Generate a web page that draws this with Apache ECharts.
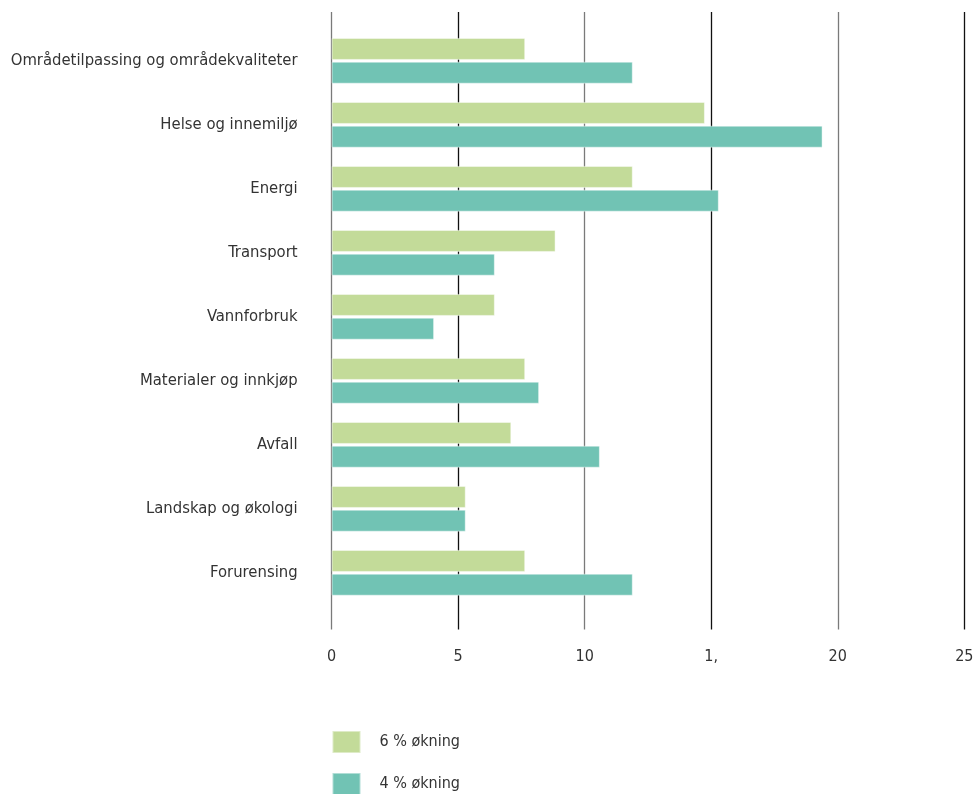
<!DOCTYPE html>
<html>
<head>
<meta charset="utf-8">
<style>
  html, body { margin: 0; padding: 0; background: #fff; }
  #chart { width: 973px; height: 794px; }
</style>
<script src="https://cdn.jsdelivr.net/npm/echarts@6/dist/echarts.min.js"></script>
</head>
<body>
<div id="chart"></div>
<script>
// Categories, top to bottom
const categories = [
  'Områdetilpassing og områdekvaliteter',
  'Helse og innemiljø',
  'Energi',
  'Transport',
  'Vannforbruk',
  'Materialer og innkjøp',
  'Avfall',
  'Landskap og økologi',
  'Forurensing'
];

// Series names
const seriesNames = ['6 % økning', '4 % økning'];

// Values per category
const values6 = [7.65, 14.75, 11.9, 8.85, 6.45, 7.65, 7.1, 5.3, 7.65];
const values4 = [11.9, 19.4, 15.3, 6.45, 4.05, 8.2, 10.6, 5.3, 11.9];

// Value axis tick labels (0, 5, 10, 15, 20, 25)
const tickLabels = ['0', '5', '10', '1,', '20', '25'];

const FONT = "'Liberation Sans Narrow', 'DejaVu Sans Condensed', 'Roboto', sans-serif";
const TEXT = '#333333';

const legendText = { fontFamily: FONT, fontSize: 16, color: TEXT, padding: [4, 0, 0, 14] };

const chart = echarts.init(document.getElementById('chart'), null, { renderer: 'canvas' });

chart.setOption({
  animation: false,
  backgroundColor: '#ffffff',
  textStyle: { fontFamily: FONT },
  // one legend block per series, stacked vertically
  legend: seriesNames.map((name, i) => ({
    left: 331.5,
    top: 730 + i * 42,
    padding: 0,
    itemWidth: 28,
    itemHeight: 22,
    icon: 'rect',
    data: [name],
    textStyle: legendText
  })),
  grid: [
    // bars
    { left: 331.6, right: 8.7, top: 28.8, height: 576, containLabel: false, outerBoundsMode: 'none' },
    // vertical reference lines, taller than the bar area
    { left: 331.6, right: 8.7, top: 12, height: 617.5, containLabel: false, outerBoundsMode: 'none' }
  ],
  xAxis: [
    {
      gridIndex: 0, type: 'value', min: 0, max: 25, interval: 5,
      axisLine: { show: false }, axisTick: { show: false },
      axisLabel: { show: false }, splitLine: { show: false }
    },
    {
      gridIndex: 1, type: 'value', min: 0, max: 25, interval: 5,
      axisLine: { show: false }, axisTick: { show: false },
      axisLabel: {
        margin: 19, fontSize: 16, color: TEXT, fontFamily: FONT,
        formatter: (v) => tickLabels[Math.round(v / 5)]
      },
      splitLine: { show: true, lineStyle: { color: ['#7a7a7a', '#111111'], width: 1.3 } }
    }
  ],
  yAxis: [
    {
      gridIndex: 0, type: 'category', inverse: true, data: categories,
      axisLine: { show: false }, axisTick: { show: false },
      axisLabel: { margin: 34, fontSize: 16.5, color: TEXT, fontFamily: FONT },
      splitLine: { show: false }
    },
    { gridIndex: 1, type: 'value', show: false }
  ],
  series: [
    {
      name: seriesNames[0], type: 'bar', xAxisIndex: 0, yAxisIndex: 0,
      data: values6, barWidth: 22, barGap: '8%',
      itemStyle: { color: '#c3db99', borderColor: 'rgba(255,255,255,0.45)', borderWidth: 1 }
    },
    {
      name: seriesNames[1], type: 'bar', xAxisIndex: 0, yAxisIndex: 0,
      data: values4, barWidth: 22, barGap: '8%',
      itemStyle: { color: '#71c3b4', borderColor: 'rgba(255,255,255,0.45)', borderWidth: 1 }
    }
  ]
});
</script>
</body>
</html>
